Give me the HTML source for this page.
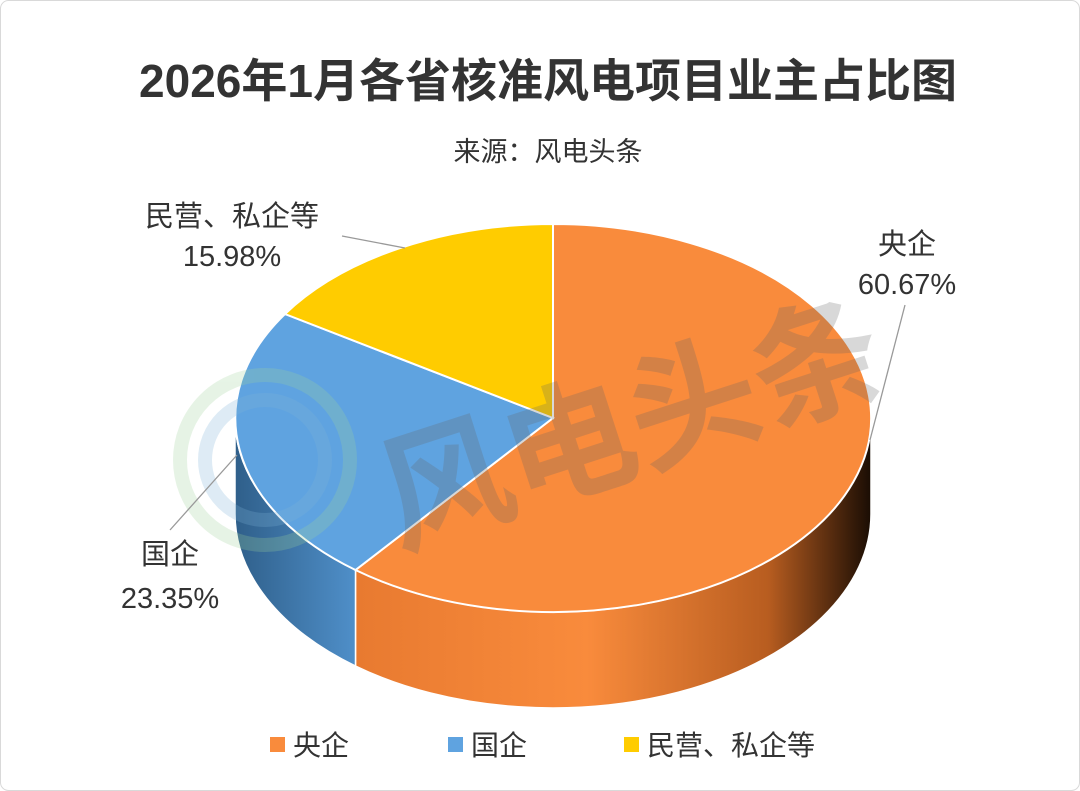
<!DOCTYPE html>
<html><head><meta charset="utf-8"><style>
html,body{margin:0;padding:0;background:#fff}
svg{display:block}
text{font-family:"Liberation Sans","Noto Sans CJK SC",sans-serif}
</style></head><body>
<svg width="1080" height="791" viewBox="0 0 1080 791">
<defs>
<linearGradient id="og" x1="0" x2="1" y1="0" y2="0">
<stop offset="0" stop-color="#e87a30"/><stop offset="0.45" stop-color="#f98b3c"/><stop offset="0.8" stop-color="#b85d20"/><stop offset="1" stop-color="#1a0d04"/>
</linearGradient>
<linearGradient id="bg" x1="0" x2="1" y1="0" y2="0">
<stop offset="0" stop-color="#2f5f8a"/><stop offset="1" stop-color="#4f8fc9"/>
</linearGradient>
</defs>
<rect x="0.5" y="0.5" width="1079" height="790" rx="8" fill="#fff" stroke="#d9d9d9"/>
<text x="548" y="97" text-anchor="middle" font-size="46" font-weight="bold" fill="#333">2026年1月各省核准风电项目业主占比图</text>
<text x="548" y="161" text-anchor="middle" font-size="27" fill="#333">来源：风电头条</text>
<path d="M871 418 A318 194 0 0 1 355.5 570 L355.5 666 A318 194 0 0 0 871 514 Z" fill="url(#og)" stroke="#fff" stroke-width="1.5"/>
<path d="M355.5 570 A318 194 0 0 1 235 418 L235 514 A318 194 0 0 0 355.5 666 Z" fill="url(#bg)" stroke="#fff" stroke-width="1.5"/>
<path d="M553 418 L553 224 A318 194 0 1 1 355.5 570 Z" fill="#f98b3c" stroke="#fff" stroke-width="2"/>
<path d="M553 418 L355.5 570 A318 194 0 0 1 285 314 Z" fill="#5fa3e0" stroke="#fff" stroke-width="2"/>
<path d="M553 418 L285 314 A318 194 0 0 1 553 224 Z" fill="#ffcc00" stroke="#fff" stroke-width="2"/>
<g opacity="0.25">
<circle cx="265" cy="460" r="85" fill="none" stroke="#9fd39a" stroke-width="14"/>
<circle cx="265" cy="460" r="60" fill="none" stroke="#7fb4d8" stroke-width="14"/>
<text x="630" y="470" text-anchor="middle" font-size="130" font-weight="bold" fill="#666" transform="rotate(-18 630 420)">风电头条</text>
</g>
<polyline points="905,305 870,440" fill="none" stroke="#999" stroke-width="1.3"/>
<polyline points="342,236 405,248" fill="none" stroke="#999" stroke-width="1.3"/>
<polyline points="170,530 237,455" fill="none" stroke="#999" stroke-width="1.3"/>
<g font-size="29" fill="#333" text-anchor="middle">
<text x="907" y="254">央企</text><text x="907" y="294">60.67%</text>
<text x="232" y="226">民营、私企等</text><text x="232" y="266">15.98%</text>
<text x="170" y="564">国企</text><text x="170" y="608">23.35%</text>
</g>
<g font-size="28" fill="#333">
<rect x="270" y="737" width="15" height="15" fill="#f98b3c"/><text x="293" y="755">央企</text>
<rect x="448" y="737" width="15" height="15" fill="#5fa3e0"/><text x="471" y="755">国企</text>
<rect x="624" y="737" width="15" height="15" fill="#ffcc00"/><text x="647" y="755">民营、私企等</text>
</g>
</svg>
</body></html>
